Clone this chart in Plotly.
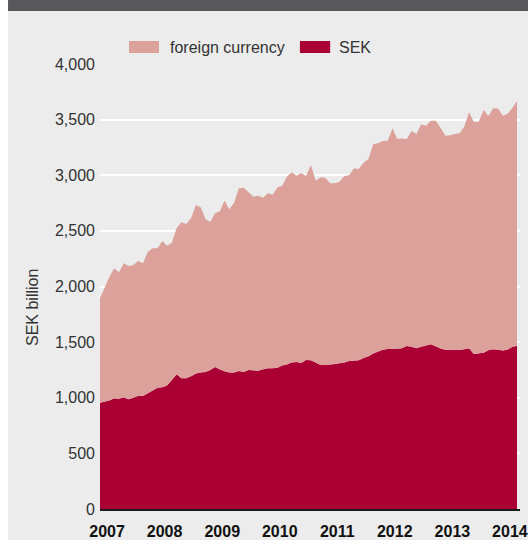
import pandas as pd
import plotly.graph_objects as go

# Monthly lending volumes, SEK billion (Jan 2007 - Apr 2014)
months = pd.date_range("2007-01-01", periods=88, freq="MS")

sek = [
    956, 966, 975, 995, 991, 1004, 986, 1000, 1018, 1016, 1040, 1070,
    1090, 1094, 1110, 1160, 1211, 1175, 1175, 1194, 1218, 1228, 1232, 1249,
    1276, 1254, 1238, 1228, 1226, 1240, 1232, 1249, 1243, 1243, 1256, 1265,
    1266, 1270, 1290, 1300, 1317, 1321, 1312, 1339, 1338, 1315, 1294, 1294,
    1297, 1303, 1310, 1316, 1330, 1335, 1338, 1357, 1373, 1398, 1413, 1432,
    1438, 1438, 1440, 1445, 1465, 1459, 1445, 1458, 1472, 1480, 1463, 1443,
    1431, 1429, 1429, 1429, 1436, 1445, 1393, 1400, 1404, 1427, 1436, 1431,
    1425, 1434, 1456, 1468,
]

foreign_currency = [
    938, 1023, 1110, 1169, 1137, 1205, 1198, 1193, 1211, 1193, 1273, 1273,
    1253, 1315, 1257, 1234, 1312, 1402, 1387, 1419, 1515, 1484, 1372, 1334,
    1382, 1425, 1533, 1466, 1527, 1643, 1656, 1598, 1564, 1573, 1542, 1573,
    1559, 1622, 1613, 1687, 1710, 1675, 1706, 1654, 1754, 1636, 1688, 1684,
    1631, 1625, 1632, 1677, 1670, 1728, 1718, 1756, 1773, 1880, 1874, 1876,
    1873, 1984, 1889, 1886, 1861, 1939, 1926, 2000, 1974, 2010, 2027, 1985,
    1925, 1930, 1942, 1948, 2001, 2121, 2086, 2081, 2183, 2106, 2166, 2168,
    2110, 2119, 2146, 2200,
]

year_labels = ["2007", "2008", "2009", "2010", "2011", "2012", "2013", "2014"]
y_ticks = [0, 500, 1000, 1500, 2000, 2500, 3000, 3500, 4000]

SEK_COLOR = "#aa0033"
FX_COLOR = "#dca19b"
BG = "#ebeceb"

fig = go.Figure()
fig.add_trace(go.Scatter(
    x=months, y=sek, name="SEK", stackgroup="total",
    mode="lines", line=dict(width=0, color=SEK_COLOR), fillcolor=SEK_COLOR,
))
fig.add_trace(go.Scatter(
    x=months, y=foreign_currency, name="foreign currency", stackgroup="total",
    mode="lines", line=dict(width=0, color=FX_COLOR), fillcolor=FX_COLOR,
))

# Year labels sit a little after each year start
tick_dates = [f"{y}-02-15" for y in year_labels]

fig.update_layout(
    width=528, height=540,
    margin=dict(l=100, r=8, t=64, b=31),
    paper_bgcolor=BG, plot_bgcolor=BG,
    showlegend=False,
    font=dict(family="Liberation Sans, Arial, sans-serif", color="#333333"),
    xaxis=dict(
        range=["2007-01-01", "2014-04-20"],
        tickvals=tick_dates, ticktext=year_labels,
        tickfont=dict(size=16, color="#111111", family="Liberation Sans, Arial, sans-serif", weight="bold"),
        showgrid=False, zeroline=False,
        showline=True, linecolor="#1a1a1a", linewidth=1.5,
        ticks="", ticklabelstandoff=7, automargin=False,
    ),
    yaxis=dict(
        range=[0, 4000], tickvals=y_ticks,
        tickformat=",d",
        tickfont=dict(size=16, color="#333333"),
        showgrid=True, gridcolor="#ffffff", gridwidth=1.5,
        zeroline=False, ticks="", ticklabelstandoff=4, automargin=False,
    ),
)

# Page frame: dark header band and white left strip
fig.add_shape(type="rect", xref="paper", yref="paper",
              x0=-0.219, x1=1.02, y0=1.119, y1=1.15,
              fillcolor="#58585a", line=dict(width=0), layer="below")
fig.add_shape(type="rect", xref="paper", yref="paper",
              x0=-0.24, x1=-0.219, y0=-0.08, y1=1.15,
              fillcolor="#ffffff", line=dict(width=0), layer="below")

# Legend drawn as swatches + labels
fig.add_shape(type="rect", xref="paper", yref="paper",
              x0=0.069, x1=0.1405, y0=1.0247, y1=1.0517,
              fillcolor=FX_COLOR, line=dict(width=0))
fig.add_shape(type="rect", xref="paper", yref="paper",
              x0=0.476, x1=0.548, y0=1.0247, y1=1.0517,
              fillcolor=SEK_COLOR, line=dict(width=0))
fig.add_annotation(text="foreign currency", xref="paper", yref="paper",
                   x=0.162, y=1.0382, xanchor="left", yanchor="middle",
                   showarrow=False, font=dict(size=16, color="#333333"))
fig.add_annotation(text="SEK", xref="paper", yref="paper",
                   x=0.564, y=1.0382, xanchor="left", yanchor="middle",
                   showarrow=False, font=dict(size=16, color="#333333"))

# Y axis title
fig.add_annotation(text="SEK billion", xref="paper", yref="paper",
                   x=-0.1595, y=0.4517, xanchor="center", yanchor="middle",
                   textangle=-90, showarrow=False,
                   font=dict(size=16, color="#333333"))

fig.write_html("out.html")
